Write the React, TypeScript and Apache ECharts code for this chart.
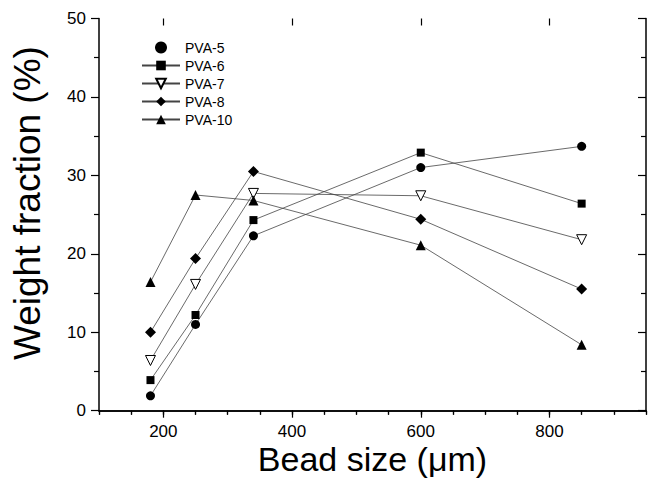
import React, { useEffect, useRef } from "react";
import * as echarts from "echarts";

const beadSizes = [180, 250, 340, 600, 850];
const pva5 = [1.9, 11.0, 22.3, 31.0, 33.7];
const pva6 = [3.9, 12.2, 24.3, 32.9, 26.4];
const pva7 = [6.4, 16.1, 27.7, 27.4, 21.8];
const pva8 = [10.0, 19.4, 30.5, 24.4, 15.5];
const pva10 = [16.4, 27.5, 26.8, 21.1, 8.4];

const seriesNames = ["PVA-5", "PVA-6", "PVA-7", "PVA-8", "PVA-10"];
const xTickLabels = [200, 400, 600, 800];

const FONT = "'Liberation Sans', Arial, sans-serif";

export default function App() {
  const ref = useRef<HTMLDivElement>(null);
  useEffect(() => {
    if (!ref.current) return;
    const chart = echarts.init(ref.current, undefined, { renderer: "svg" });
    const toPairs = (ys: number[]) => beadSizes.map((x, i) => [x, ys[i]]);
    const lineStyle = { color: "#444", width: 0.8 };
    const mk = (name: string, ys: number[], symbol: string, size: number, extra: any = {}) => ({
      type: "line",
      name,
      data: toPairs(ys),
      xAxisIndex: 0,
      yAxisIndex: 0,
      symbol,
      symbolSize: size,
      showAllSymbol: true,
      lineStyle,
      itemStyle: { color: "#000" },
      emphasis: { disabled: true },
      ...extra,
    });
    const axisLine = { show: true, lineStyle: { color: "#000", width: 1.5 } };
    const tickStyle = { color: "#000", width: 1.2 };
    const xBase = { type: "value", min: 100, max: 950, splitLine: { show: false } };
    chart.setOption({
      animation: false,
      grid: { left: 99, right: 2, top: 18.5, bottom: 81.3, containLabel: false },
      legend: {
        orient: "vertical",
        left: 136,
        top: 35.5,
        itemWidth: 38,
        itemHeight: 12,
        itemGap: 4,
        textStyle: { fontSize: 14, fontFamily: FONT, color: "#000" },
        data: [
          { name: seriesNames[0], icon: "circle" },
          { name: seriesNames[1] },
          { name: seriesNames[2] },
          { name: seriesNames[3] },
          { name: seriesNames[4] },
        ],
      },
      xAxis: [
        {
          ...xBase,
          position: "bottom",
          interval: 50,
          name: "Bead size (\u03bcm)",
          nameLocation: "middle",
          nameGap: 31,
          nameMoveOverlap: false,
          nameTextStyle: { fontSize: 34, fontFamily: FONT, color: "#000", verticalAlign: "top" },
          axisLine,
          axisTick: { show: true, inside: false, length: 4, lineStyle: tickStyle },
          axisLabel: {
            fontSize: 17,
            fontFamily: FONT,
            color: "#000",
            margin: 12,
            formatter: (v: number) => (xTickLabels.includes(v) ? String(v) : ""),
          },
        },
        {
          ...xBase,
          position: "top",
          interval: 50,
          axisLine,
          axisTick: { show: true, inside: true, length: 4, lineStyle: tickStyle },
          axisLabel: { show: false },
        },
        {
          ...xBase,
          position: "bottom",
          axisLine: { show: false },
          axisTick: { show: true, inside: false, length: 7, lineStyle: tickStyle, customValues: xTickLabels },
          axisLabel: { show: false },
        },
        {
          ...xBase,
          position: "top",
          axisLine: { show: false },
          axisTick: { show: true, inside: true, length: 7, lineStyle: tickStyle, customValues: xTickLabels },
          axisLabel: { show: false },
        },
      ],
      yAxis: [
        {
          type: "value",
          position: "left",
          min: 0,
          max: 50,
          interval: 10,
          name: "Weight fraction (%)",
          nameLocation: "middle",
          nameGap: 53,
          nameMoveOverlap: false,
          nameTextStyle: { fontSize: 37, fontFamily: FONT, color: "#000", padding: [0, 0, 0, 23] },
          axisLine,
          axisTick: { show: true, inside: false, length: 8, lineStyle: tickStyle },
          minorTick: { show: true, splitNumber: 2, length: 5, lineStyle: tickStyle },
          axisLabel: { fontSize: 17, fontFamily: FONT, color: "#000", margin: 13 },
          splitLine: { show: false },
        },
        {
          type: "value",
          position: "right",
          min: 0,
          max: 50,
          interval: 10,
          axisLine,
          axisTick: { show: true, inside: true, length: 8, lineStyle: tickStyle },
          minorTick: { show: true, splitNumber: 2, length: 5, lineStyle: tickStyle },
          axisLabel: { show: false },
          splitLine: { show: false },
        },
      ],
      series: [
        mk(seriesNames[0], pva5, "circle", 9),
        mk(seriesNames[1], pva6, "rect", 8),
        mk(seriesNames[2], pva7, "triangle", 10, {
          symbolRotate: 180,
          itemStyle: { color: "#fff", borderColor: "#000", borderWidth: 1 },
        }),
        mk(seriesNames[3], pva8, "diamond", 11),
        mk(seriesNames[4], pva10, "triangle", 10),
      ],
    });
    return () => chart.dispose();
  }, []);
  return (
    <div
      ref={ref}
      style={{ position: "fixed", left: 0, top: 0, width: 649, height: 492, background: "#fff" }}
    />
  );
}
